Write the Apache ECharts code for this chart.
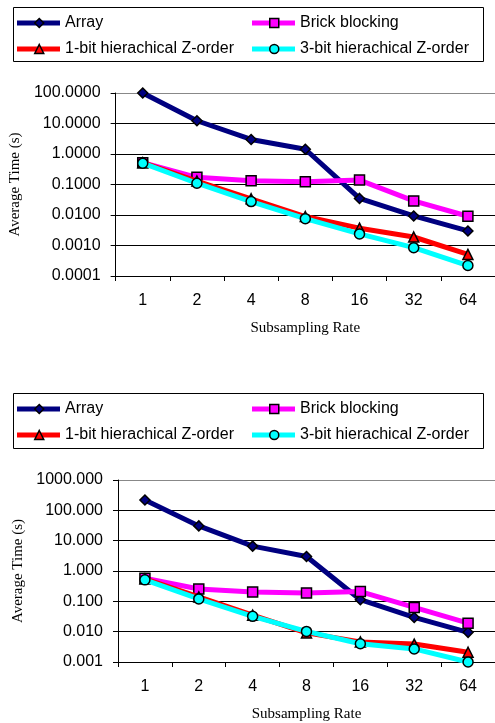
<!DOCTYPE html>
<html>
<head>
<meta charset="utf-8">
<script src="https://cdn.jsdelivr.net/npm/echarts@6/dist/echarts.min.js"></script>
<style>
  html, body { margin: 0; padding: 0; background: #fff; }
  #chart { width: 495px; height: 723px; }
</style>
</head>
<body>
<div id="chart"></div>
<script>
var rates = ['1', '2', '4', '8', '16', '32', '64'];
var names = ['Array', 'Brick blocking', '1-bit hierachical Z-order', '3-bit hierachical Z-order'];

// top chart
var arrayTop = [100, 12.3, 3.0, 1.43, 0.035, 0.0093, 0.0030];
var brickTop = [0.52, 0.172, 0.133, 0.124, 0.14, 0.029, 0.0091];
var bit1Top = [0.52, 0.13, 0.034, 0.0089, 0.0037, 0.0019, 0.00051];
var bit3Top = [0.5, 0.11, 0.0275, 0.0076, 0.0024, 0.00085, 0.00022];

// bottom chart
var arrayBot = [219, 30.7, 6.6, 3.0, 0.113, 0.0295, 0.0095];
var brickBot = [0.58, 0.254, 0.202, 0.19, 0.21, 0.063, 0.019];
var bit1Bot = [0.55, 0.14, 0.035, 0.0091, 0.0046, 0.0039, 0.0021];
var bit3Bot = [0.51, 0.12, 0.032, 0.0102, 0.0040, 0.0027, 0.0010];

var colors = ['#000080', '#FF00FF', '#FF0000', '#00FFFF'];
var symbols = ['diamond', 'rect', 'triangle', 'circle'];
var symSizes = [10, 10, 10, 10];

var sansFont = '"Liberation Sans", Arial, sans-serif';
var serifFont = '"Liberation Serif", "Times New Roman", serif';

function makeSeries(idx, data, gi) {
  return {
    name: names[idx],
    type: 'line',
    xAxisIndex: gi,
    yAxisIndex: gi,
    data: data,
    symbol: symbols[idx],
    symbolSize: symSizes[idx],
    showAllSymbol: true,
    lineStyle: { color: colors[idx], width: 5 },
    itemStyle: { color: colors[idx], borderColor: '#000', borderWidth: 1.5 },
    z: 2 + idx
  };
}

// each legend entry = thick bar with text, plus the marker drawn over its middle
function makeLegends(top) {
  var out = [];
  var pos = [[17, top], [252, top], [17, top + 26], [252, top + 26]];
  for (var i = 0; i < 4; i++) {
    out.push({
      data: [{ name: names[i], icon: 'rect' }],
      left: pos[i][0],
      top: pos[i][1],
      padding: 0,
      itemWidth: 43,
      itemHeight: 5,
      selectedMode: false,
      itemStyle: { color: colors[i], borderWidth: 0 },
      textStyle: { fontFamily: sansFont, fontSize: 16, color: '#000' },
      z: 5
    });
    out.push({
      data: [{ name: names[i], icon: symbols[i] }],
      left: pos[i][0] + 17,
      top: pos[i][1],
      padding: 0,
      itemWidth: 9,
      itemHeight: 9,
      selectedMode: false,
      itemStyle: { color: colors[i], borderColor: '#000', borderWidth: 1.5 },
      textStyle: { fontFamily: sansFont, fontSize: 16, color: 'rgba(0,0,0,0)' },
      z: 6
    });
  }
  return out;
}

function makeXAxis(gi) {
  return {
    type: 'category',
    gridIndex: gi,
    data: rates,
    boundaryGap: true,
    name: 'Subsampling Rate',
    nameLocation: 'middle',
    nameGap: 45,
    nameTextStyle: { fontFamily: serifFont, fontSize: 15, color: '#000' },
    axisLine: { lineStyle: { color: '#000', width: 1 } },
    axisTick: { show: true, length: 5, lineStyle: { color: '#000' } },
    axisLabel: { fontFamily: sansFont, fontSize: 16, color: '#000', margin: 17 },
    splitLine: { show: false }
  };
}

function makeYAxis(gi, min, max, digits) {
  return {
    type: 'log',
    gridIndex: gi,
    logBase: 10,
    min: min,
    max: max,
    name: 'Average Time (s)',
    nameLocation: 'middle',
    nameGap: 92,
    nameTextStyle: { fontFamily: serifFont, fontSize: 15, color: '#000' },
    axisLine: { show: true, lineStyle: { color: '#000', width: 1 } },
    axisTick: { show: true, length: 5, lineStyle: { color: '#000' } },
    axisLabel: {
      fontFamily: sansFont, fontSize: 16, color: '#000', margin: 15,
      formatter: function (v) { return Number(v).toFixed(digits); }
    },
    splitLine: {
      show: true,
      lineStyle: { color: ['#000', '#000', '#000', '#000', '#000', '#000', '#888'], width: 1 }
    }
  };
}

var chart = echarts.init(document.getElementById('chart'), null, { renderer: 'canvas' });

var option = {
  animation: false,
  backgroundColor: '#fff',
  legend: makeLegends(15).concat(makeLegends(401)),
  graphic: [
    { type: 'rect', shape: { x: 13.5, y: 7.5, width: 470, height: 54 }, style: { fill: 'none', stroke: '#000', lineWidth: 1 } },
    { type: 'rect', shape: { x: 13.5, y: 393.5, width: 470, height: 55 }, style: { fill: 'none', stroke: '#000', lineWidth: 1 } }
  ],
  grid: [
    { left: 115, right: 0, top: 93, height: 183 },
    { left: 118, right: 0, top: 480, height: 182 }
  ],
  xAxis: [makeXAxis(0), makeXAxis(1)],
  yAxis: [makeYAxis(0, 0.0001, 100, 4), makeYAxis(1, 0.001, 1000, 3)],
  series: [
    makeSeries(0, arrayTop, 0),
    makeSeries(1, brickTop, 0),
    makeSeries(2, bit1Top, 0),
    makeSeries(3, bit3Top, 0),
    makeSeries(0, arrayBot, 1),
    makeSeries(1, brickBot, 1),
    makeSeries(2, bit1Bot, 1),
    makeSeries(3, bit3Bot, 1)
  ]
};

chart.setOption(option);
</script>
</body>
</html>
